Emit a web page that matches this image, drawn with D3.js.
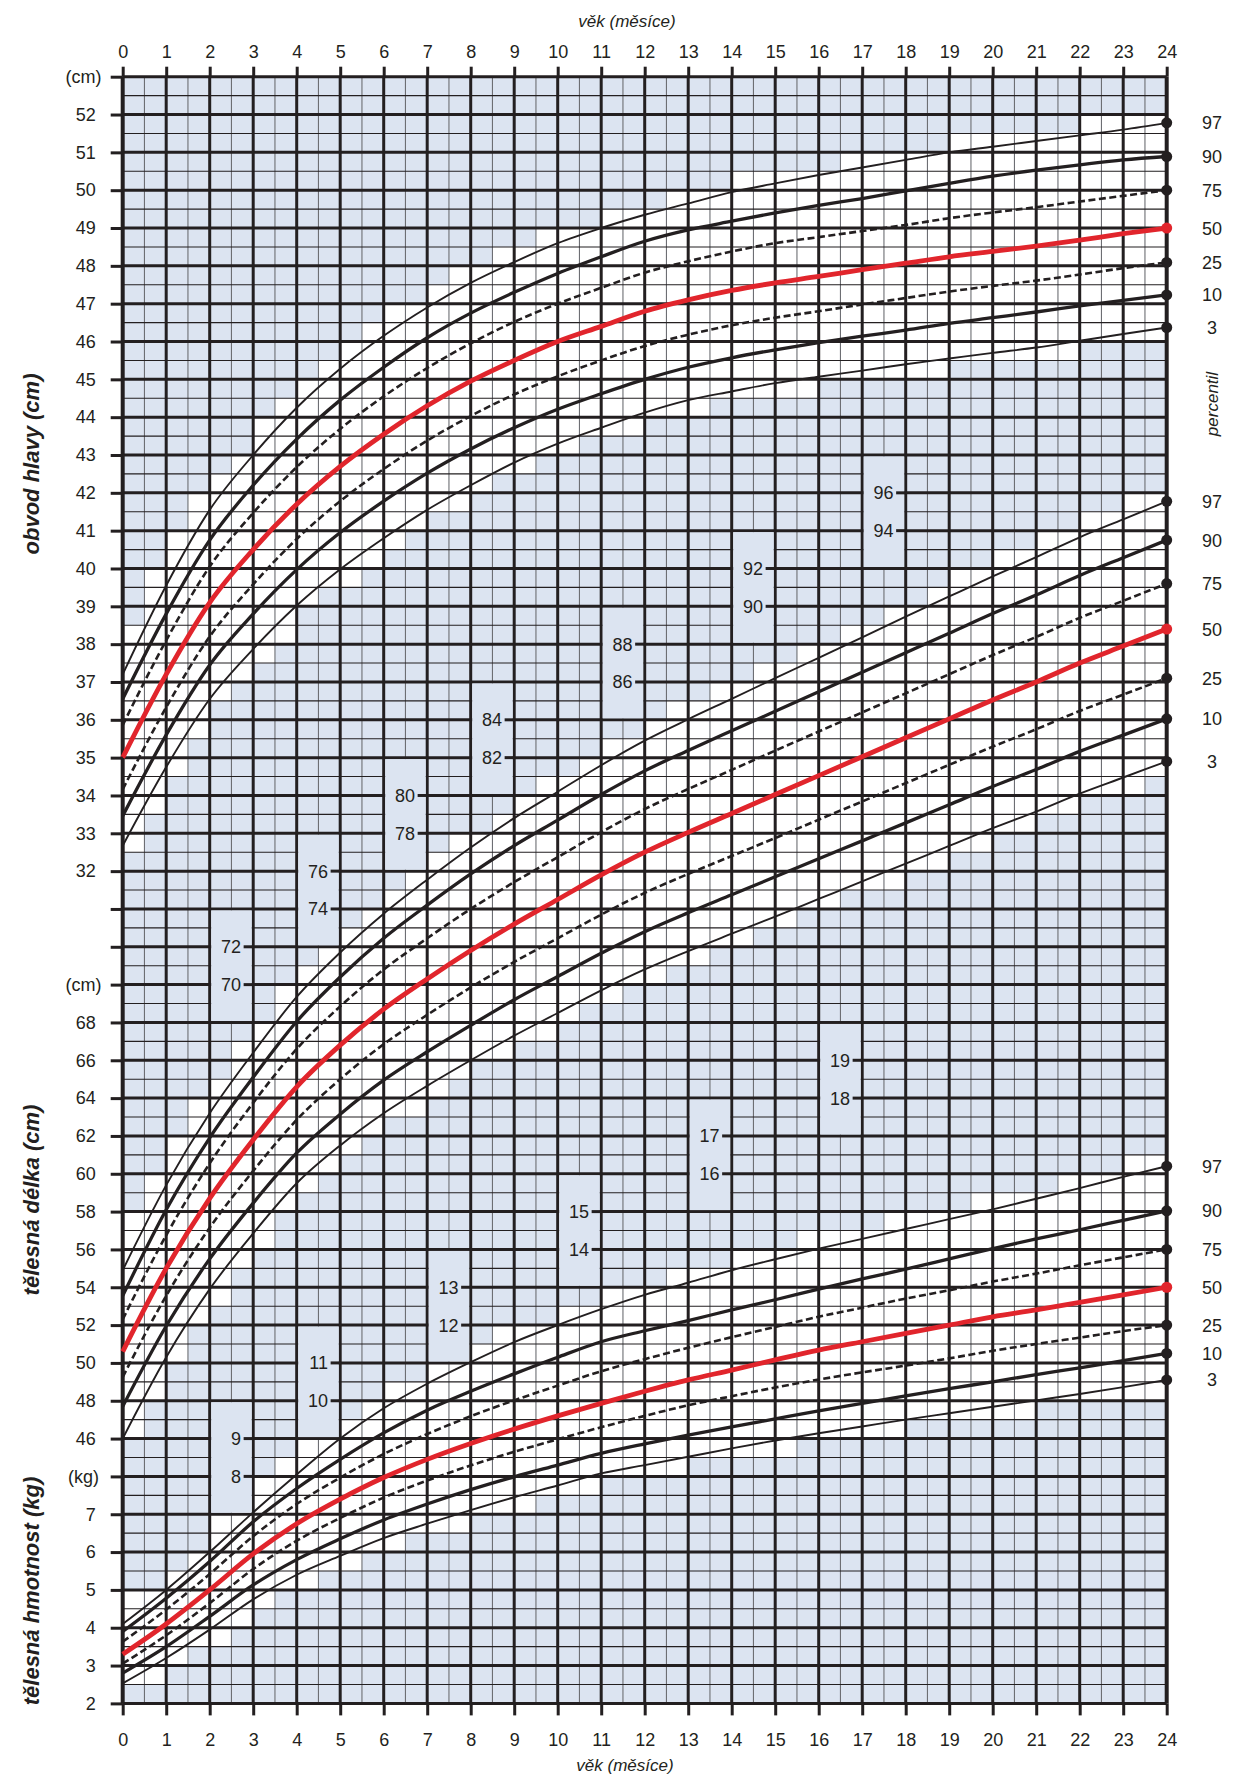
<!DOCTYPE html>
<html>
<head>
<meta charset="utf-8">
<script src="https://cdn.jsdelivr.net/npm/d3@7/dist/d3.min.js"></script>
<style>
  body { margin: 0; background: #fff; }
  text { font-family: "Liberation Sans", Arial, Helvetica, sans-serif; fill: #231f20; }
</style>
</head>
<body>
<div id="chart"></div>
<script>
// ages in months
var months = [0,1,2,3,4,5,6,7,8,9,10,11,12,13,14,15,16,17,18,19,20,21,22,23,24];
var percentiles = [97, 90, 75, 50, 25, 10, 3];

// head circumference (cm)
var headP97 = [37.2, 39.55, 41.55, 43.0, 44.25, 45.28, 46.15, 46.9, 47.55, 48.1, 48.6, 49.0, 49.35, 49.65, 49.95, 50.18, 50.4, 50.6, 50.8, 51.0, 51.15, 51.3, 51.45, 51.6, 51.78];
var headP90 = [36.55, 38.8, 40.75, 42.2, 43.42, 44.45, 45.32, 46.1, 46.75, 47.3, 47.8, 48.24, 48.65, 48.95, 49.18, 49.4, 49.6, 49.78, 49.98, 50.18, 50.37, 50.53, 50.67, 50.8, 50.89];
var headP75 = [35.86, 38.1, 40.05, 41.47, 42.68, 43.69, 44.55, 45.3, 45.95, 46.52, 47.0, 47.42, 47.82, 48.12, 48.38, 48.6, 48.76, 48.92, 49.08, 49.26, 49.41, 49.55, 49.7, 49.85, 50.0];
var headP50 = [35.0, 37.2, 39.1, 40.5, 41.7, 42.7, 43.55, 44.3, 44.95, 45.5, 46.0, 46.4, 46.8, 47.1, 47.35, 47.55, 47.72, 47.9, 48.07, 48.24, 48.38, 48.52, 48.68, 48.85, 49.0];
var headP25 = [34.16, 36.33, 38.2, 39.58, 40.78, 41.78, 42.63, 43.38, 44.03, 44.6, 45.08, 45.5, 45.88, 46.18, 46.43, 46.63, 46.8, 46.98, 47.15, 47.32, 47.47, 47.61, 47.77, 47.94, 48.09];
var headP10 = [33.46, 35.6, 37.45, 38.8, 39.97, 40.95, 41.78, 42.52, 43.16, 43.72, 44.21, 44.62, 45.0, 45.32, 45.57, 45.78, 45.97, 46.14, 46.3, 46.48, 46.63, 46.78, 46.94, 47.09, 47.23];
var headP3  = [32.67, 34.75, 36.55, 37.87, 39.02, 39.98, 40.8, 41.55, 42.2, 42.8, 43.3, 43.72, 44.12, 44.45, 44.68, 44.9, 45.07, 45.23, 45.4, 45.55, 45.7, 45.84, 46.02, 46.2, 46.37];

// body length (cm)
var lengthP97 = [54.9, 59.4, 63.2, 66.4, 69.35, 71.7, 73.75, 75.55, 77.25, 78.8, 80.2, 81.6, 82.9, 84.03, 85.11, 86.2, 87.28, 88.36, 89.45, 90.52, 91.58, 92.6, 93.65, 94.6, 95.55];
var lengthP90 = [53.55, 58.1, 61.9, 65.1, 68.05, 70.4, 72.45, 74.2, 75.85, 77.35, 78.7, 80.05, 81.3, 82.38, 83.42, 84.45, 85.48, 86.52, 87.55, 88.58, 89.62, 90.6, 91.63, 92.57, 93.5];
var lengthP75 = [52.3, 56.75, 60.55, 63.75, 66.6, 68.85, 70.8, 72.45, 74.0, 75.42, 76.74, 78.06, 79.28, 80.34, 81.35, 82.37, 83.38, 84.39, 85.4, 86.41, 87.42, 88.38, 89.39, 90.29, 91.2];
var lengthP50 = [50.6, 55.0, 58.7, 61.8, 64.6, 66.8, 68.7, 70.3, 71.8, 73.2, 74.5, 75.8, 77.0, 78.05, 79.05, 80.05, 81.05, 82.05, 83.05, 84.05, 85.05, 86.0, 87.0, 87.9, 88.8];
var lengthP25 = [49.25, 53.55, 57.15, 60.15, 62.85, 65.0, 66.85, 68.4, 69.85, 71.2, 72.45, 73.7, 74.85, 75.85, 76.8, 77.75, 78.72, 79.68, 80.65, 81.62, 82.58, 83.5, 84.47, 85.33, 86.2];
var lengthP10 = [47.7, 51.95, 55.5, 58.45, 61.1, 63.15, 64.95, 66.45, 67.85, 69.2, 70.43, 71.66, 72.8, 73.8, 74.75, 75.7, 76.65, 77.6, 78.55, 79.51, 80.47, 81.37, 82.33, 83.19, 84.05];
var lengthP3  = [46.0, 50.3, 53.9, 56.85, 59.5, 61.5, 63.2, 64.65, 66.0, 67.3, 68.5, 69.7, 70.8, 71.77, 72.69, 73.6, 74.53, 75.46, 76.4, 77.33, 78.27, 79.15, 80.1, 80.95, 81.8];

// body weight (kg)
var weightP97 = [4.1, 5.0, 6.0, 7.05, 8.05, 9.0, 9.8, 10.45, 11.02, 11.55, 12.0, 12.42, 12.8, 13.12, 13.45, 13.74, 14.02, 14.28, 14.54, 14.8, 15.06, 15.34, 15.62, 15.92, 16.2];
var weightP90 = [3.9, 4.78, 5.75, 6.8, 7.68, 8.45, 9.15, 9.75, 10.25, 10.71, 11.15, 11.56, 11.85, 12.12, 12.4, 12.67, 12.95, 13.22, 13.48, 13.75, 14.02, 14.28, 14.52, 14.77, 15.02];
var weightP75 = [3.63, 4.48, 5.42, 6.42, 7.27, 7.97, 8.59, 9.12, 9.59, 10.01, 10.4, 10.78, 11.1, 11.4, 11.68, 11.95, 12.22, 12.46, 12.7, 12.92, 13.15, 13.36, 13.58, 13.79, 14.0];
var weightP50 = [3.3, 4.1, 5.0, 5.95, 6.75, 7.4, 7.97, 8.45, 8.87, 9.25, 9.6, 9.93, 10.25, 10.55, 10.81, 11.08, 11.34, 11.56, 11.78, 12.0, 12.22, 12.4, 12.6, 12.8, 13.0];
var weightP25 = [3.05, 3.8, 4.65, 5.55, 6.3, 6.9, 7.44, 7.89, 8.29, 8.65, 8.98, 9.3, 9.6, 9.88, 10.12, 10.35, 10.56, 10.75, 10.93, 11.12, 11.32, 11.5, 11.67, 11.84, 12.0];
var weightP10 = [2.8, 3.5, 4.3, 5.13, 5.8, 6.35, 6.85, 7.27, 7.65, 7.99, 8.3, 8.61, 8.86, 9.09, 9.31, 9.52, 9.73, 9.93, 10.13, 10.32, 10.5, 10.69, 10.87, 11.06, 11.25];
var weightP3  = [2.53, 3.2, 3.95, 4.75, 5.4, 5.9, 6.37, 6.75, 7.11, 7.45, 7.76, 8.08, 8.3, 8.52, 8.74, 8.95, 9.14, 9.32, 9.5, 9.67, 9.84, 10.01, 10.18, 10.36, 10.55];

// left axis labels, one per grid row (row 0 = top)
var leftLabels = ["(cm)", "52", "51", "50", "49", "48", "47", "46", "45", "44", "43", "42", "41", "40", "39", "38", "37", "36", "35", "34", "33", "32", "", "",
                  "(cm)", "68", "66", "64", "62", "60", "58", "56", "54", "52", "50", "48", "46",
                  "(kg)", "7", "6", "5", "4", "3", "2"];

// scale labels printed inside the grid: [upper, lower, month where the box starts]
var lengthInner = [[96, 94, 17], [92, 90, 14], [88, 86, 11], [84, 82, 8], [80, 78, 6], [76, 74, 4], [72, 70, 2]];
var weightInner = [[19, 18, 16], [17, 16, 13], [15, 14, 10], [13, 12, 7], [11, 10, 4], [9, 8, 2]];

var W = 1250, H = 1788;
var X0 = 122.7, MW = 43.5, Y0 = 76.7, ROW = 37.83, NROWS = 43;
var BLUE = "#dce4f1", INK = "#231f20", RED = "#e1252c";

var x = d3.scaleLinear().domain([0, 24]).range([X0, X0 + 24 * MW]);
var yRow = d3.scaleLinear().domain([0, NROWS]).range([Y0, Y0 + NROWS * ROW]);
var yHead = d3.scaleLinear().domain([53, 32]).range([yRow(0), yRow(21)]);
var yLen = d3.scaleLinear().domain([96, 46]).range([yRow(11), yRow(36)]);
var yWt = d3.scaleLinear().domain([19, 2]).range([yRow(26), yRow(43)]);
var X1 = x(24), Y1 = yRow(NROWS);

var svg = d3.select('#chart').append('svg')
  .attr('width', W).attr('height', H)
  .attr('viewBox', '0 0 ' + W + ' ' + H);

var gBg = svg.append('g'), gCells = svg.append('g'), gGrid = svg.append('g'),
    gBox = svg.append('g'), gCurves = svg.append('g'), gText = svg.append('g');

//BACKGROUND
gBg.append('rect').attr('x', X0).attr('y', Y0)
  .attr('width', X1 - X0).attr('height', Y1 - Y0).attr('fill', BLUE);

//GRID
var halfMonths = d3.range(0.5, 24, 1);
var halfRows = d3.range(0.5, NROWS, 1);
gGrid.selectAll('.vminor').data(halfMonths).enter().append('line')
  .attr('x1', function(d) { return x(d); }).attr('x2', function(d) { return x(d); })
  .attr('y1', Y0).attr('y2', Y1)
  .attr('stroke', '#6d6e73').attr('stroke-width', 1.1);
gGrid.selectAll('.hminor').data(halfRows).enter().append('line')
  .attr('x1', X0).attr('x2', X1)
  .attr('y1', function(d) { return yRow(d); }).attr('y2', function(d) { return yRow(d); })
  .attr('stroke', INK).attr('stroke-width', 1.1);
gGrid.selectAll('.hmajor').data(d3.range(0, NROWS + 1)).enter().append('line')
  .attr('x1', X0).attr('x2', X1)
  .attr('y1', function(d) { return yRow(d); }).attr('y2', function(d) { return yRow(d); })
  .attr('stroke', INK).attr('stroke-width', 3);
gGrid.selectAll('.vmajor').data(months).enter().append('line')
  .attr('x1', function(d) { return x(d); }).attr('x2', function(d) { return x(d); })
  .attr('y1', Y0).attr('y2', Y1)
  .attr('stroke', INK).attr('stroke-width', function(d) { return (d == 0 || d == 24) ? 4 : 3; });

//AXES
var topAxis = d3.axisTop(x).tickValues(months).tickSize(10).tickPadding(8.5).tickFormat(d3.format('d'));
var bottomAxis = d3.axisBottom(x).tickValues(months).tickSize(12).tickPadding(18).tickFormat(d3.format('d'));
var leftAxis = d3.axisLeft(yRow).tickValues(d3.range(0, NROWS + 1)).tickSize(12).tickPadding(15)
  .tickFormat(function(d) { return leftLabels[d]; });

function styleAxis(g) {
  g.select('.domain').remove();
  g.selectAll('.tick line').attr('stroke', INK).attr('stroke-width', 3);
  g.selectAll('.tick text').attr('font-size', 18).attr('fill', INK)
    .style('font-family', '"Liberation Sans", Arial, sans-serif');
}
gText.append('g').attr('transform', 'translate(0,' + Y0 + ')').call(topAxis).call(styleAxis);
gText.append('g').attr('transform', 'translate(0,' + Y1 + ')').call(bottomAxis).call(styleAxis);
gText.append('g').attr('transform', 'translate(' + X0 + ',0)').call(leftAxis).call(styleAxis)
  .selectAll('.tick text').filter(function(d) { return leftLabels[d].charAt(0) == '('; })
  .attr('text-anchor', 'middle').attr('x', 83.5 - X0);

//INNER SCALE LABELS
// plain box from the major line above to the major line below, no fine grid inside
function innerLabels(list, scale) {
  list.forEach(function(item) {
    var m = item[2];
    var top = scale(item[0]) - ROW, bottom = scale(item[1]) + ROW;
    gBox.append('rect')
      .attr('x', x(m) + 1.5).attr('y', top + 1.5)
      .attr('width', x(m + 1) - x(m) - 3).attr('height', bottom - top - 3)
      .attr('fill', BLUE);
    [item[0], item[1]].forEach(function(v) {
      gBox.append('line')
        .attr('x1', x(m + 0.78)).attr('x2', x(m + 1))
        .attr('y1', scale(v)).attr('y2', scale(v))
        .attr('stroke', INK).attr('stroke-width', 3);
      gBox.append('text')
        .attr('x', x(m + 0.72)).attr('y', scale(v) + 6.5)
        .attr('text-anchor', 'end').attr('font-size', 18)
        .text(v);
    });
  });
}
innerLabels(lengthInner, yLen);
innerLabels(weightInner, yWt);

//CURVES
var charts = [
  { scale: yHead, series: [headP97, headP90, headP75, headP50, headP25, headP10, headP3] },
  { scale: yLen, series: [lengthP97, lengthP90, lengthP75, lengthP50, lengthP25, lengthP10, lengthP3] },
  { scale: yWt, series: [weightP97, weightP90, weightP75, weightP50, weightP25, weightP10, weightP3] }
];

function curveStyle(p) {
  if (p == 50) return { stroke: RED, width: 4.8, dash: null };
  if (p == 75 || p == 25) return { stroke: INK, width: 2.6, dash: '7,3.5' };
  if (p == 90 || p == 10) return { stroke: INK, width: 3.3, dash: null };
  return { stroke: INK, width: 1.9, dash: null };
}

// value of a series at a fractional month (straight between points, only to pick cells)
function valueAt(values, m) {
  var i = Math.min(Math.floor(m), 23);
  var t = m - i;
  return values[i] + (values[i + 1] - values[i]) * t;
}

var halfCols = d3.range(0, 48);
var cellRows = d3.range(0, NROWS * 2);

charts.forEach(function(chart) {
  var line = d3.line()
    .x(function(d, i) { return x(months[i]); })
    .y(function(d) { return chart.scale(d); })
    .curve(d3.curveMonotoneX);
  chart.series.forEach(function(values, k) {
    var st = curveStyle(percentiles[k]);
    gCurves.append('path')
      .attr('d', line(values))
      .attr('fill', 'none')
      .attr('stroke', st.stroke)
      .attr('stroke-width', st.width)
      .attr('stroke-dasharray', st.dash);
    // end point and percentile label
    gCurves.append('circle')
      .attr('cx', x(24)).attr('cy', chart.scale(values[24])).attr('r', 5.5)
      .attr('fill', percentiles[k] == 50 ? RED : INK);
    gText.append('text')
      .attr('x', 1212).attr('y', chart.scale(values[24]) + 6.5)
      .attr('text-anchor', 'middle').attr('font-size', 18)
      .text(percentiles[k]);
  });

  // white cells where the 3rd-97th band passes through the grid
  var upper = chart.series[0], lower = chart.series[6];
  halfCols.forEach(function(c) {
    var ma = c / 2, mb = (c + 1) / 2;
    var ms = d3.range(ma, mb + 0.001, 0.025);
    var topY = d3.min(ms, function(m) { return chart.scale(valueAt(upper, m)); });
    var botY = d3.max(ms, function(m) { return chart.scale(valueAt(lower, m)); });
    cellRows.forEach(function(j) {
      var ya = yRow(j / 2), yb = yRow((j + 1) / 2);
      if (yb > topY + 0.5 && ya < botY - 0.5) {
        gCells.append('rect')
          .attr('x', x(ma)).attr('y', ya)
          .attr('width', x(mb) - x(ma)).attr('height', yb - ya)
          .attr('fill', '#ffffff');
      }
    });
  });
});

//TITLES
gText.append('text').attr('x', 627).attr('y', 27).attr('text-anchor', 'middle')
  .attr('font-size', 17).attr('font-style', 'italic').text('věk (měsíce)');
gText.append('text').attr('x', 625).attr('y', 1771).attr('text-anchor', 'middle')
  .attr('font-size', 17).attr('font-style', 'italic').text('věk (měsíce)');
gText.append('text').attr('transform', 'translate(1218,404) rotate(-90)')
  .attr('text-anchor', 'middle').attr('font-size', 17).attr('font-style', 'italic').text('percentil');

var sideTitles = [['obvod hlavy (cm)', 464], ['tělesná délka (cm)', 1200], ['tělesná hmotnost (kg)', 1591]];
sideTitles.forEach(function(t) {
  gText.append('text')
    .attr('transform', 'translate(39,' + t[1] + ') rotate(-90)')
    .attr('text-anchor', 'middle')
    .attr('font-size', 22).attr('font-weight', 'bold').attr('font-style', 'italic')
    .text(t[0]);
});
</script>
</body>
</html>
